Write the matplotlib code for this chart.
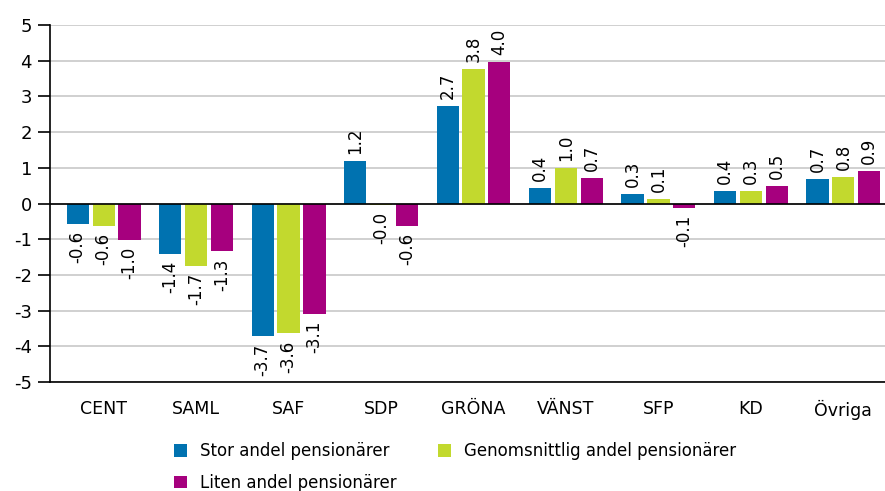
import numpy as np
import matplotlib
matplotlib.use("Agg")
import matplotlib.pyplot as plt

plt.rcParams["axes.unicode_minus"] = False

partier = ["CENT", "SAML", "SAF", "SDP", "GRÖNA", "VÄNST", "SFP", "KD", "Övriga"]
stor = [-0.57, -1.42, -3.72, 1.2, 2.74, 0.44, 0.28, 0.36, 0.68]
genomsnitt = [-0.62, -1.74, -3.64, -0.04, 3.78, 1.0, 0.12, 0.34, 0.75]
liten = [-1.02, -1.34, -3.1, -0.62, 3.96, 0.72, -0.12, 0.5, 0.9]
serier = ["Stor andel pensionärer", "Genomsnittlig andel pensionärer", "Liten andel pensionärer"]
farger = ["#0072b0", "#c2d92e", "#a6007e"]

fig = plt.figure(figsize=(8.85, 4.91), dpi=100)
ax = fig.add_axes([0.0565, 0.222, 0.9435, 0.727])

x = np.arange(len(partier))
bredd = 0.24
steg = 0.28
handles = []
for i, (vals, namn, farg) in enumerate(zip([stor, genomsnitt, liten], serier, farger)):
    pos = x + (i - 1) * steg
    b = ax.bar(pos, vals, width=bredd, color=farg, label=namn, zorder=3)
    handles.append(b)
    for p, v in zip(pos, vals):
        txt = f"{v:.1f}"
        if v >= 0:
            ax.annotate(txt, (p, v), xytext=(0, 5), textcoords="offset points",
                        rotation=90, ha="center", va="bottom", fontsize=12)
        else:
            ax.annotate(txt, (p, v), xytext=(0, -5), textcoords="offset points",
                        rotation=90, ha="center", va="top", fontsize=12)

ax.set_xlim(-0.58, 8.45)
ax.set_ylim(-5, 5)
ax.set_yticks(range(-5, 6))
ax.set_xticks(x)
ax.set_xticklabels(partier, fontsize=12.5)
ax.tick_params(axis="x", length=0, pad=13)
ax.tick_params(axis="y", labelsize=13, length=9, width=1.2, pad=4)
ax.grid(axis="y", color="#c8c8c8", linewidth=1.2, zorder=0)
ax.axhline(0, color="black", linewidth=1.2, zorder=4)
for s in ["top", "right"]:
    ax.spines[s].set_visible(False)
ax.spines["left"].set_linewidth(1.2)
ax.spines["bottom"].set_linewidth(1.2)

# ordning radvis: Stor, Genomsnittlig / Liten
ordning = [0, 2, 1]
fig.legend([handles[k] for k in ordning], [serier[k] for k in ordning],
           loc="upper left", bbox_to_anchor=(0.197, 0.099), ncol=2,
           frameon=False, fontsize=12, handlelength=0.75, handleheight=0.75,
           columnspacing=2.5, handletextpad=0.8, labelspacing=0.8,
           borderaxespad=0, borderpad=0)

fig.savefig("out.png", dpi=100)
